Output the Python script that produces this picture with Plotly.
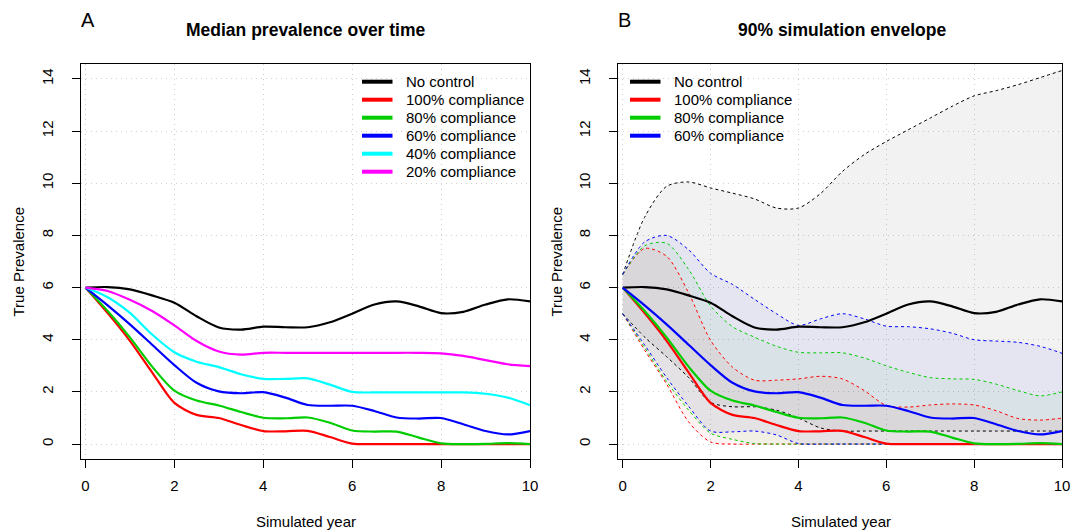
import plotly.graph_objects as go

W, H = 1084, 531
OFF = 8  # page body margin offset

years = [0, 0.5, 1, 1.5, 2, 2.5, 3, 3.5, 4, 4.5, 5, 5.5, 6, 6.5, 7, 7.5, 8, 8.5, 9, 9.5, 10]

# Median prevalence
no_control = [6.0, 6.02, 5.93, 5.7, 5.42, 4.9, 4.47, 4.39, 4.5, 4.48, 4.48, 4.67, 5.0, 5.35, 5.47, 5.28, 5.02, 5.07, 5.35, 5.55, 5.47]
comp100 = [6.0, 5.02, 3.96, 2.75, 1.58, 1.12, 1.0, 0.73, 0.5, 0.49, 0.51, 0.27, 0.02, 0, 0, 0, 0, 0, 0, 0, 0]
comp80 = [6.0, 5.1, 4.09, 2.97, 2.05, 1.67, 1.48, 1.23, 1.01, 0.99, 1.02, 0.82, 0.52, 0.48, 0.48, 0.25, 0.03, 0, 0.01, 0.04, 0]
comp60 = [6.0, 5.32, 4.59, 3.81, 3.03, 2.35, 2.02, 1.95, 1.99, 1.78, 1.5, 1.47, 1.47, 1.27, 1.02, 0.98, 1.0, 0.76, 0.5, 0.37, 0.5]
comp40 = [6.0, 5.63, 5.03, 4.2, 3.52, 3.16, 2.95, 2.68, 2.5, 2.5, 2.52, 2.28, 2.0, 1.98, 1.98, 1.98, 1.98, 1.98, 1.93, 1.78, 1.49]
comp20 = [6.0, 5.87, 5.53, 5.1, 4.55, 3.95, 3.55, 3.43, 3.5, 3.5, 3.5, 3.5, 3.5, 3.5, 3.5, 3.5, 3.48, 3.38, 3.22, 3.06, 2.99]

# 90% simulation envelopes (upper / lower)
nc_upper = [6.5, 8.7, 9.88, 10.05, 9.82, 9.62, 9.4, 9.05, 9.05, 9.6, 10.45, 11.1, 11.6, 12.05, 12.5, 12.95, 13.35, 13.55, 13.78, 14.05, 14.32]
nc_lower = [5.0, 4.1, 3.35, 2.55, 1.6, 1.43, 1.43, 1.3, 1.0, 0.62, 0.5, 0.5, 0.5, 0.5, 0.5, 0.5, 0.5, 0.5, 0.5, 0.5, 0.5]
c100_upper = [6.5, 7.5, 7.2, 5.8, 3.98, 2.95, 2.45, 2.45, 2.5, 2.6, 2.5, 2.05, 1.48, 1.42, 1.5, 1.54, 1.5, 1.28, 0.98, 0.92, 0.99]
c100_lower = [5.0, 3.6, 2.3, 0.85, 0.08, 0, 0, 0, 0, 0, 0, 0, 0, 0, 0, 0, 0, 0, 0, 0, 0]
c80_upper = [6.5, 7.6, 7.7, 6.7, 5.3, 4.5, 4.1, 3.75, 3.52, 3.5, 3.5, 3.3, 3.0, 2.75, 2.55, 2.5, 2.48, 2.3, 2.05, 1.85, 2.0]
c80_lower = [5.0, 3.7, 2.4, 1.3, 0.42, 0.18, 0.02, 0, 0, 0, 0, 0, 0, 0, 0, 0, 0, 0, 0, 0, 0]
c60_upper = [6.5, 7.75, 8.0, 7.45, 6.55, 6.12, 5.55, 5.0, 4.55, 4.8, 5.0, 4.8, 4.52, 4.5, 4.42, 4.25, 4.0, 3.95, 3.9, 3.75, 3.48]
c60_lower = [5.0, 3.8, 2.55, 1.45, 0.5, 0.47, 0.5, 0.35, 0.02, 0, 0, 0, 0, 0, 0, 0, 0, 0, 0, 0, 0]

labels_left = ["No control", "100% compliance", "80% compliance", "60% compliance", "40% compliance", "20% compliance"]
colors = ["#000000", "#FF0000", "#00CD00", "#0000FF", "#00FFFF", "#FF00FF"]
medians = [no_control, comp100, comp80, comp60, comp40, comp20]
fills = ["rgba(0,0,0,0.05)", "rgba(255,0,0,0.05)", "rgba(0,205,0,0.05)", "rgba(0,0,255,0.05)"]
uppers = [nc_upper, c100_upper, c80_upper, c60_upper]
lowers = [nc_lower, c100_lower, c80_lower, c60_lower]

x_ticks = [0, 2, 4, 6, 8, 10]
y_ticks = [0, 2, 4, 6, 8, 10, 12, 14]

FONT = "Liberation Sans, Arial, sans-serif"
FS = 15
SM = 0.8

fig = go.Figure()

# Left panel: medians
for lab, col, ys in zip(labels_left, colors, medians):
    fig.add_trace(go.Scatter(x=years, y=ys, mode="lines", name=lab,
                             line=dict(color=col, width=2.2, shape="spline", smoothing=SM),
                             xaxis="x", yaxis="y", showlegend=False))

# Right panel: envelopes (fill)
for col, f, up, lo in zip(colors[:4], fills, uppers, lowers):
    fig.add_trace(go.Scatter(x=years + years[::-1], y=up + lo[::-1], mode="lines",
                             fill="toself", fillcolor=f, line=dict(width=0, shape="spline", smoothing=SM),
                             xaxis="x2", yaxis="y2", showlegend=False, hoverinfo="skip"))
# dashed bounds
for col, up, lo in zip(colors[:4], uppers, lowers):
    for ys in (up, lo):
        fig.add_trace(go.Scatter(x=years, y=ys, mode="lines",
                                 line=dict(color=col, width=1, dash="3px,3px", shape="spline", smoothing=SM),
                                 xaxis="x2", yaxis="y2", showlegend=False))
# medians right
for lab, col, ys in zip(labels_left[:4], colors[:4], medians[:4]):
    fig.add_trace(go.Scatter(x=years, y=ys, mode="lines", name=lab,
                             line=dict(color=col, width=2.2, shape="spline", smoothing=SM),
                             xaxis="x2", yaxis="y2", showlegend=False))

def px(x):
    return (x - OFF) / W

def py(y):
    return 1 - (y - OFF) / H

ydom = [py(458.7), py(64.3)]
common = dict(ticks="outside", ticklen=8, tickwidth=1, tickcolor="black", showline=True,
              linecolor="black", linewidth=1, mirror=True, showgrid=True, gridcolor="#cfcfcf",
              griddash="1px,4px", gridwidth=1, zeroline=False, automargin=False,
              tickfont=dict(family=FONT, size=FS, color="black"))
xax = dict(range=[-0.1, 10.0], tickvals=x_ticks, ticklabelstandoff=5, **common)
yax = dict(range=[-0.56, 14.56], tickvals=y_ticks, tickangle=-90, ticklabelstandoff=13, **common)

fig.update_layout(
    width=W, height=H, margin=dict(l=0, r=0, t=0, b=0),
    paper_bgcolor="white", plot_bgcolor="white",
    xaxis=dict(domain=[px(81), px(530)], anchor="y", **xax),
    yaxis=dict(domain=ydom, anchor="x", **yax),
    xaxis2=dict(domain=[px(618.3), px(1062)], anchor="y2", **xax),
    yaxis2=dict(domain=ydom, anchor="x2", **yax),
    showlegend=False,
)

ann = []
shapes = []
# panel letters and titles
ann.append(dict(text="A", x=px(88), y=1, yanchor="top", borderpad=0,
                font=dict(family=FONT, size=20, color="black")))
ann.append(dict(text="B", x=px(624), y=1, yanchor="top", borderpad=0,
                font=dict(family=FONT, size=20, color="black")))
ann.append(dict(text="<b>Median prevalence over time</b>", x=px(305.5), y=py(30),
                font=dict(family=FONT, size=17.5, color="black")))
ann.append(dict(text="<b>90% simulation envelope</b>", x=px(842), y=py(30),
                font=dict(family=FONT, size=17.5, color="black")))
for cx in (305.5, 841):
    ann.append(dict(text="Simulated year", x=px(cx), y=py(521),
                    font=dict(family=FONT, size=FS, color="black")))
for cx in (18, 556):
    ann.append(dict(text="True Prevalence", x=px(cx), y=py(261.5), textangle=-90,
                    font=dict(family=FONT, size=FS, color="black")))

# legends
def legend(x0, x1, xt, labs, cols):
    for k, (lab, col) in enumerate(zip(labs, cols)):
        yy = 81.7 + 18 * k
        shapes.append(dict(type="line", xref="paper", yref="paper", x0=px(x0), x1=px(x1),
                           y0=py(yy), y1=py(yy), line=dict(color=col, width=4)))
        ann.append(dict(text=lab, x=px(xt), y=py(yy), xanchor="left",
                        font=dict(family=FONT, size=FS, color="black")))

legend(362, 392.5, 404, labels_left, colors)
legend(630, 660.5, 671.5, labels_left[:4], colors[:4])

for a in ann:
    a.setdefault("xref", "paper")
    a.setdefault("yref", "paper")
    a.setdefault("xanchor", "center")
    a.setdefault("yanchor", "middle")
    a.setdefault("showarrow", False)
fig.update_layout(annotations=ann, shapes=shapes)

fig.write_html("out.html")
